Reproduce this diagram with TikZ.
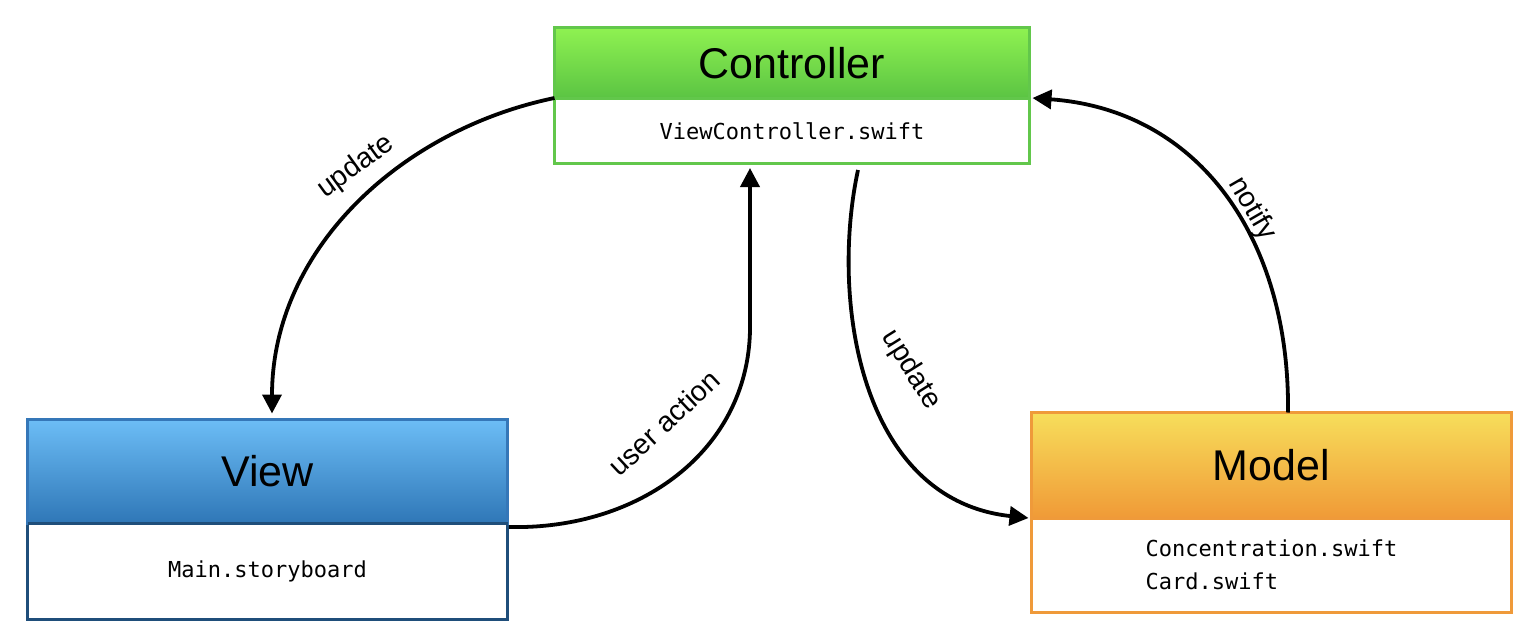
\documentclass[tikz,border=0pt]{standalone}
\usepackage{fontspec}
\setmainfont{Liberation Sans}
\newfontfamily\codefont{DejaVu Sans Mono}
\usetikzlibrary{arrows.meta,calc}
\definecolor{ctrlborder}{HTML}{62C74B}
\definecolor{ctrltop}{HTML}{8FF251}
\definecolor{ctrlbot}{HTML}{5BC443}
\definecolor{viewborder}{HTML}{3577B8}
\definecolor{viewdark}{HTML}{1F4E7A}
\definecolor{viewtop}{HTML}{6CBDF6}
\definecolor{viewbot}{HTML}{2F77B7}
\definecolor{modelborder}{HTML}{EF9A3A}
\definecolor{modeltop}{HTML}{F7DE5B}
\definecolor{modelbot}{HTML}{F09A37}
\begin{document}
\begin{tikzpicture}[x=1pt,y=-1pt,
  box/.style={draw, line width=3pt, inner sep=0pt, outer sep=0pt, anchor=north west, minimum width=480pt},
  title/.style={font=\fontsize{43}{50}\selectfont},
  code/.style={font=\codefont\fontsize{22}{33}\selectfont, align=left},
  flow/.style={line width=3.8pt, -{Triangle[length=19pt,width=19pt]}},
  lbl/.style={font=\fontsize{28.5}{30}\selectfont, inner sep=0pt}]
\useasboundingbox (0,0) rectangle (1540,629);

% Controller
\node[box, draw=ctrlborder, fill=white, minimum width=475pt, minimum height=65.5pt, code] (ctrlb) at (554.5,98) {ViewController.swift};
\node[box, draw=ctrlborder, top color=ctrltop, bottom color=ctrlbot, minimum width=475pt, minimum height=70.5pt, title] (ctrlh) at (554.5,27.5) {Controller};

% View
\node[box, draw=viewdark, fill=white, minimum height=96.5pt, code] (viewb) at (27.5,523) {Main.storyboard};
\node[box, draw=viewborder, top color=viewtop, bottom color=viewbot, minimum height=103.5pt, title] (viewh) at (27.5,419.5) {View};
\draw[viewdark, line width=3pt] (viewb.north west) -- (viewb.north east);

% Model
\node[box, draw=modelborder, fill=white, minimum height=94.5pt, code] (modelb) at (1031.5,518) {Concentration.swift\\Card.swift};
\node[box, draw=modelborder, top color=modeltop, bottom color=modelbot, minimum height=105.5pt, title] (modelh) at (1031.5,412.5) {Model};

% connector end points
\coordinate (u1end) at ($(viewh.north west)+(244.5,-6)$);
\coordinate (uastart) at ($(viewb.north east)+(1.5,4)$);
\coordinate (uaend) at ($(ctrlb.south west)+(195.5,4.5)$);
\coordinate (u2start) at ($(ctrlb.south west)+(303.5,6.5)$);
\coordinate (u2end) at ($(modelh.south west)+(-3,0)$);
\coordinate (nstart) at ($(modelh.north west)+(256.5,0)$);
\coordinate (nend) at ($(ctrlh.south east)+(3,0)$);

% connectors
\draw[flow] (ctrlh.south west) .. controls (400,130) and (272,250) .. (u1end);
\draw[flow] (uastart) .. controls (640,530) and (748,450) .. (750,330) -- (uaend);
\draw[flow] (u2start) .. controls (830,300) and (860,500) .. (u2end);
\draw[flow] (nstart) .. controls (1290,240) and (1200,110) .. (nend);

% labels
\node[lbl, rotate=36] (lu1) at (356,167) {update};
\node[lbl, rotate=43] (lua) at (664,423) {user action};
\node[lbl, rotate=-58] (lu2) at (911,370) {update};
\node[lbl, rotate=-60] (lnot) at (1252,209) {notify};
\end{tikzpicture}
\end{document}
